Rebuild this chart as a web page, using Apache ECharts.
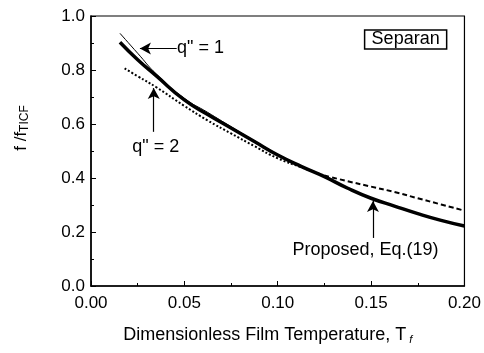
<!DOCTYPE html>
<html><head><meta charset="utf-8">
<script src="https://cdn.jsdelivr.net/npm/echarts@6/dist/echarts.min.js"></script>
<style>html,body{margin:0;padding:0;background:#fff}#c{width:484px;height:353px}</style>
</head><body><div id="c"></div>
<script>
// Data
const proposedX = [0.0155, 0.025, 0.035, 0.05, 0.0625, 0.075, 0.0875, 0.1, 0.1125, 0.125, 0.1375, 0.15, 0.1625, 0.175, 0.1875, 0.2];
const proposedY = [0.903, 0.838, 0.778, 0.689, 0.635, 0.585, 0.535, 0.485, 0.443, 0.405, 0.362, 0.325, 0.296, 0.268, 0.243, 0.222];
const q1X = [0.0155, 0.025, 0.035, 0.05, 0.0625, 0.075, 0.0875, 0.1, 0.1125];
const q1Y = [0.936, 0.862, 0.785, 0.695, 0.643, 0.590, 0.538, 0.488, 0.445];
const q2DotX = [0.018, 0.025, 0.035, 0.05, 0.0625, 0.075, 0.0875, 0.1, 0.1125, 0.125];
const q2DotY = [0.806, 0.777, 0.736, 0.667, 0.613, 0.565, 0.518, 0.473, 0.440, 0.409];
const q2DashX = [0.125, 0.1375, 0.15, 0.1625, 0.175, 0.1875, 0.2];
const q2DashY = [0.409, 0.388, 0.368, 0.348, 0.325, 0.302, 0.279];
const xTicks = ['0.00', '0.05', '0.10', '0.15', '0.20'];
const yTicks = ['0.0', '0.2', '0.4', '0.6', '0.8', '1.0'];

const zip = (xs, ys) => xs.map((x, i) => [x, ys[i]]);
const FONT = 'Liberation Sans, Arial, sans-serif';
const chart = echarts.init(document.getElementById('c'), null, {renderer: 'canvas'});

function arrow(from, to) {
  return [{coord: from, symbol: 'none'}, {coord: to, symbol: 'arrow', symbolSize: [9, 11]}];
}
const lbl = (text, extra) => Object.assign({show: true, formatter: text, color: '#000', fontFamily: FONT, fontSize: 18}, extra || {});

chart.setOption({
  animation: false,
  backgroundColor: '#fff',
  grid: {left: 91, right: 19, top: 16, bottom: 67},
  xAxis: {
    type: 'value', min: 0, max: 0.2, interval: 0.05,
    axisLine: {lineStyle: {color: '#000', width: 1.5}},
    axisTick: {inside: true, length: 5, lineStyle: {color: '#000'}},
    minorTick: {show: true, splitNumber: 2, length: 3, lineStyle: {color: '#000'}},
    splitLine: {show: false},
    axisLabel: {color: '#000', fontFamily: FONT, fontSize: 17, margin: 9,
      formatter: v => xTicks[Math.round(v / 0.05)]},
    name: 'Dimensionless Film Temperature, T{s|f}', nameLocation: 'middle', nameGap: 40,
    nameTextStyle: {color: '#000', fontFamily: FONT, fontSize: 18, padding: [0, 20, 0, 0],
      rich: {s: {fontSize: 11, fontFamily: FONT, fontStyle: 'italic', color: '#000', verticalAlign: 'bottom', padding: [8, 0, 0, 3]}}}
  },
  yAxis: {
    type: 'value', min: 0, max: 1, interval: 0.2,
    axisLine: {show: true, lineStyle: {color: '#000', width: 1.5}},
    axisTick: {show: true, inside: true, length: 5, lineStyle: {color: '#000'}},
    minorTick: {show: true, splitNumber: 2, length: 3, lineStyle: {color: '#000'}},
    splitLine: {show: false},
    axisLabel: {color: '#000', fontFamily: FONT, fontSize: 17, margin: 6,
      formatter: v => yTicks[Math.round(v / 0.2)]},
    name: 'f /f{s|TICF}', nameLocation: 'middle', nameGap: 60, nameRotate: 90,
    nameTextStyle: {color: '#000', fontFamily: FONT, fontSize: 17, padding: [0, 0, 0, 46],
      rich: {s: {fontSize: 12, fontFamily: FONT, color: '#000', verticalAlign: 'bottom', padding: [8, 0, 0, 0]}}}
  },
  series: [
    {type: 'line', data: zip(proposedX, proposedY), symbol: 'none', smooth: true,
      lineStyle: {color: '#000', width: 3.5},
      markLine: {silent: true, animation: false, lineStyle: {color: '#000', width: 1.2, type: 'solid'}, label: {show: false},
        data: [arrow([0.151, 0.178], [0.151, 0.315]), arrow([0.0459, 0.880], [0.0262, 0.880]), arrow([0.0336, 0.571], [0.0336, 0.733])]},
      markPoint: {silent: true, symbol: 'rect', symbolSize: 0,
        data: [
          {coord: [0.147, 0.133], label: lbl('Proposed, Eq.(19)')},
          {coord: [0.0461, 0.880], label: lbl('q" = 1', {position: 'right', distance: 0})},
          {coord: [0.0347, 0.516], label: lbl('q" = 2')},
          {coord: [0.1685, 0.913], label: lbl('Separan', {borderColor: '#000', borderWidth: 1.5, padding: [1, 7, 0, 7]})}
        ]}},
    {type: 'line', data: zip(q1X, q1Y), symbol: 'none', smooth: true, lineStyle: {color: '#000', width: 1}},
    {type: 'line', data: zip(q2DotX, q2DotY), symbol: 'none', smooth: true, lineStyle: {color: '#000', width: 2, type: [2, 2]}},
    {type: 'line', data: zip(q2DashX, q2DashY), symbol: 'none', smooth: true, lineStyle: {color: '#000', width: 2, type: [5, 3]}}
  ]
});
// frame (top/right) drawn from grid rect
const r = chart.getModel().getComponent('grid').coordinateSystem.getRect();
chart.setOption({graphic: [{type: 'rect', shape: {x: r.x, y: r.y, width: r.width, height: r.height},
  style: {fill: 'none', stroke: '#000', lineWidth: 1.2}, silent: true, z: 0}]});
</script></body></html>
